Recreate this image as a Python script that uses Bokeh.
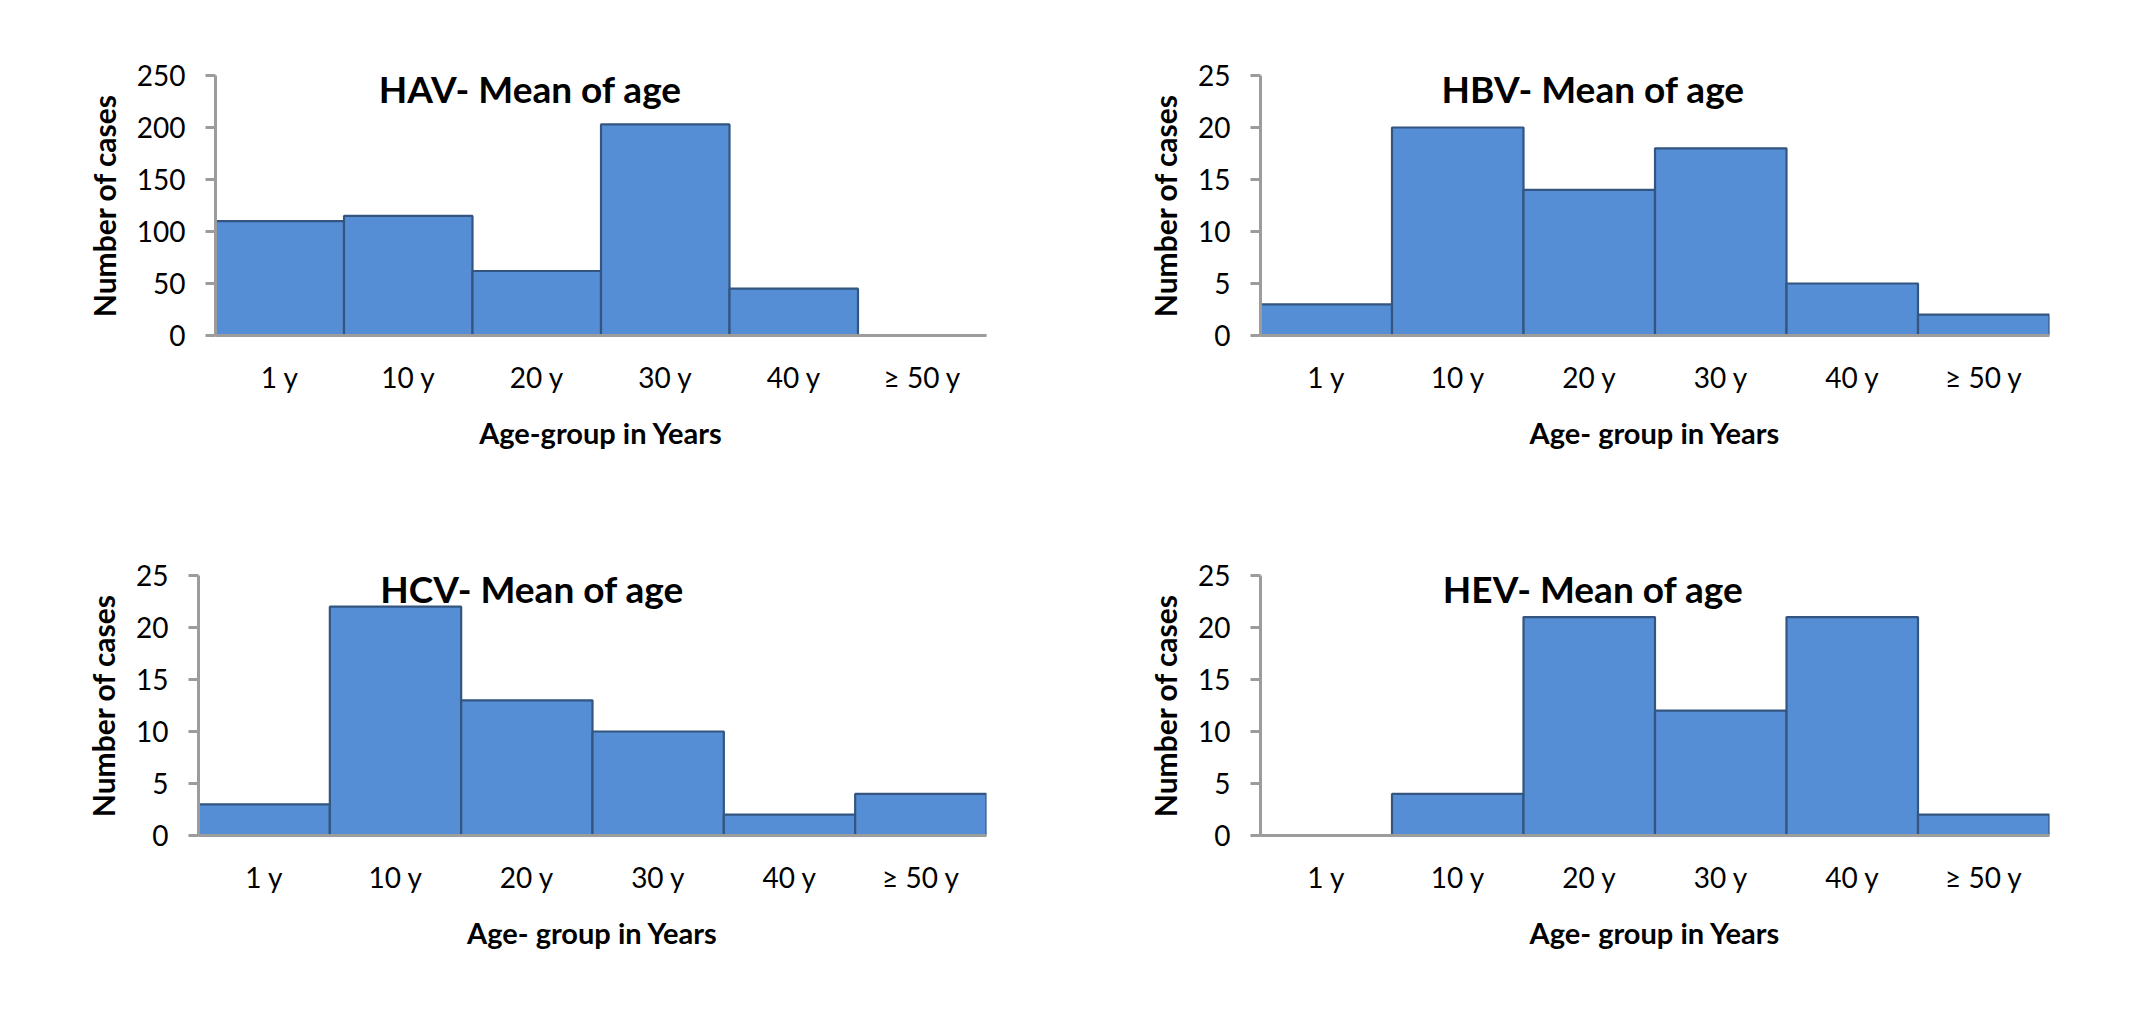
from bokeh.plotting import figure
from bokeh.layouts import column, row
from bokeh.models import Range1d, FactorRange, FixedTicker, Label
from bokeh.embed import file_html
from bokeh.resources import INLINE

categories = ["1 y", "10 y", "20 y", "30 y", "40 y", "\u2265 50 y"]
hav_values = [110, 115, 62, 203, 45, 0]
hbv_values = [3, 20, 14, 18, 5, 2]
hcv_values = [3, 22, 13, 10, 2, 4]
hev_values = [0, 4, 21, 12, 21, 2]

titles = ["HAV- Mean of age", "HBV- Mean of age", "HCV- Mean of age", "HEV- Mean of age"]
x_labels = ["Age-group in Years", "Age- group in Years", "Age- group in Years", "Age- group in Years"]
y_label = "Number of cases"
y_max = [250, 25, 25, 25]
y_step = [50, 5, 5, 5]

FONT = "Lato"
AXIS_GRAY = "#9c9c9c"
BAR_FILL = "#558ed5"
BAR_LINE = "#33557f"


def make_panel(values, title, xlabel, ymax, ystep, w, h, left, right, top, bottom, title_pos):
    p = figure(width=w, height=h, x_range=FactorRange(*categories),
               y_range=Range1d(0, ymax), output_backend="svg", toolbar_location=None,
               min_border_left=left, min_border_right=right,
               min_border_top=top, min_border_bottom=bottom)
    p.vbar(x=categories, top=values, width=1.0, fill_color=BAR_FILL,
           line_color=BAR_LINE, line_width=2.2)
    p.outline_line_color = None
    p.xgrid.grid_line_color = None
    p.ygrid.grid_line_color = None
    p.background_fill_color = "white"
    p.border_fill_color = "white"

    p.yaxis.ticker = FixedTicker(ticks=list(range(0, ymax + 1, ystep)))
    p.yaxis.minor_tick_line_color = None
    p.yaxis.major_tick_out = 10
    p.yaxis.major_tick_in = 0
    p.yaxis.major_tick_line_color = AXIS_GRAY
    p.yaxis.major_tick_line_width = 3
    p.yaxis.axis_line_color = AXIS_GRAY
    p.yaxis.axis_line_width = 3
    p.yaxis.major_label_text_font = FONT
    p.yaxis.major_label_text_font_size = "28px"
    p.yaxis.major_label_text_color = "black"
    p.yaxis.major_label_standoff = 20
    p.yaxis.axis_label = y_label
    p.yaxis.axis_label_text_font = FONT
    p.yaxis.axis_label_text_font_style = "bold"
    p.yaxis.axis_label_text_font_size = "30px"
    p.yaxis.axis_label_text_color = "black"
    p.yaxis.axis_label_standoff = 12

    p.xaxis.major_tick_out = 0
    p.xaxis.major_tick_in = 0
    p.xaxis.major_tick_line_color = None
    p.xaxis.minor_tick_line_color = None
    p.xaxis.axis_line_color = AXIS_GRAY
    p.xaxis.axis_line_width = 3
    p.xaxis.major_label_text_font = FONT
    p.xaxis.major_label_text_font_size = "28px"
    p.xaxis.major_label_text_color = "black"
    p.xaxis.major_label_standoff = 24
    p.xaxis.axis_label = xlabel
    p.xaxis.axis_label_text_font = FONT
    p.xaxis.axis_label_text_font_style = "bold"
    p.xaxis.axis_label_text_font_size = "29px"
    p.xaxis.axis_label_text_color = "black"
    p.xaxis.axis_label_standoff = 18

    p.add_layout(Label(x=title_pos[0], y=title_pos[1] * ymax, text=title,
                       text_font=FONT, text_font_style="bold", text_font_size="37px",
                       text_align="center", text_baseline="middle", text_color="black"))
    return p


p1 = make_panel(hav_values, titles[0], x_labels[0], y_max[0], y_step[0],
                1069, 513, 215, 83, 75, 178, (2.45, 0.95))
p2 = make_panel(hbv_values, titles[1], x_labels[1], y_max[1], y_step[1],
                1070, 513, 191, 90, 75, 178, (2.53, 0.95))
p3 = make_panel(hcv_values, titles[2], x_labels[2], y_max[2], y_step[2],
                1069, 514, 198, 83, 62, 192, (2.54, 0.95))
p4 = make_panel(hev_values, titles[3], x_labels[3], y_max[3], y_step[3],
                1070, 514, 191, 90, 62, 192, (2.53, 0.95))

layout = column(row(p1, p2, spacing=0), row(p3, p4, spacing=0), spacing=0)
open("out.html", "w").write(file_html(layout, INLINE))
